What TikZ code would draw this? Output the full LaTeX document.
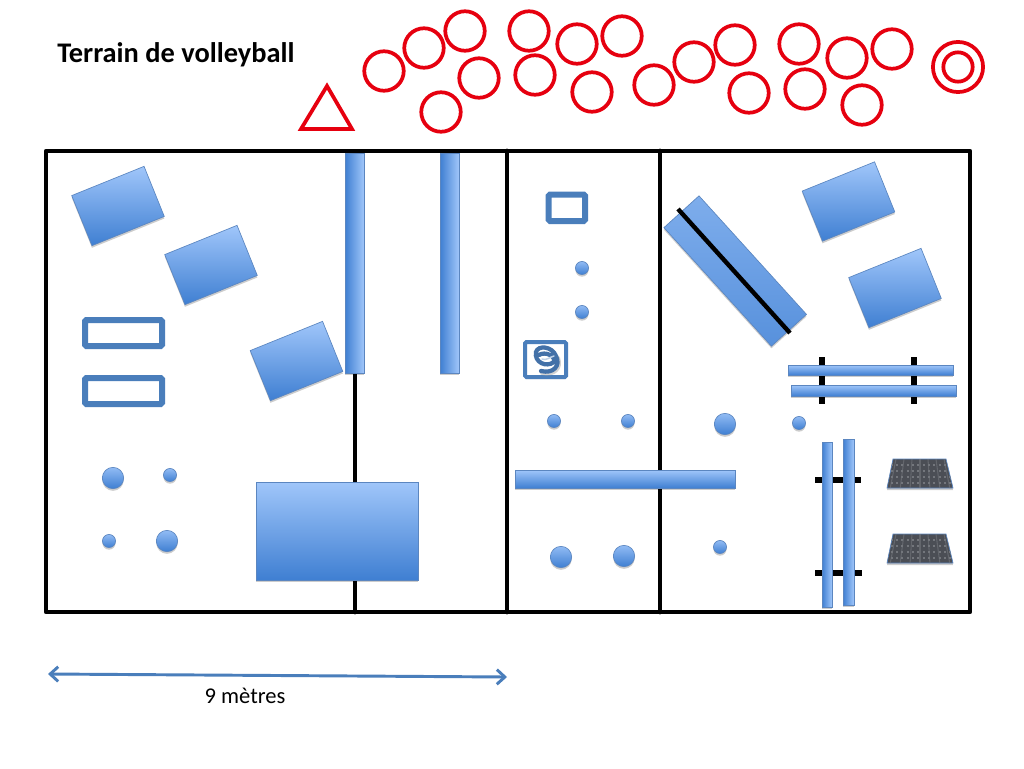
\documentclass[tikz,border=0pt]{standalone}
\usepackage{fontspec}
\setmainfont{Carlito}
\usetikzlibrary{shadows,arrows.meta}
\definecolor{hi}{HTML}{A0C6FA}
\definecolor{lo}{HTML}{3F7FD2}
\definecolor{edge}{HTML}{5B86C0}
\definecolor{bluel}{HTML}{4A7EBB}
\definecolor{redc}{HTML}{E6000F}
\definecolor{netbase}{HTML}{4B4E55}
\definecolor{netline}{HTML}{73767C}
\tikzset{
 softshadow/.style={drop shadow={shadow xshift=0pt,shadow yshift=-1.6pt,opacity=.2,fill=black}},
 court/.style={draw=black,line width=3.6pt,line cap=round,line join=round},
 blueshape/.style={draw=edge,line width=.5pt,top color=hi,bottom color=lo,softshadow},
 hbar/.style={blueshape},
 vbar/.style={draw=edge,line width=.5pt,left color=lo,right color=hi,softshadow},
 tilted/.style={blueshape,minimum width=58.5pt,minimum height=40.5pt,inner sep=0pt,rotate=22},
 openbox/.style={draw=bluel,line width=4.5pt,rounded corners=1pt,fill=white,softshadow},
 ring/.style={draw=redc,line width=2.8pt},
 ball/.style={draw=edge,line width=.5pt,top color=hi!85!lo,bottom color=lo,softshadow},
 post/.style={draw=black,line width=5pt},
 netshape/.style={fill=netbase,draw=edge,line width=.5pt,softshadow},
 label/.style={inner sep=0pt,text=black}
}
\begin{document}
\begin{tikzpicture}[x=.75pt,y=-.75pt]
\useasboundingbox[fill=white] (0,0) rectangle (1024,768);
% title
\node[label,anchor=base west,font=\bfseries\fontsize{21.3pt}{25pt}\selectfont] (title) at (57,62) {Terrain de volleyball};
% red players
\foreach \x/\y in {384/71,424/48,465/31,479/78,441/112,529/31,535/75,577/44,592/92,622/36,654/85,694/62,735/45,749/93,799/44,805/89,847/58,862/105,892/49}
  \draw[ring] (\x,\y) circle[radius=14.8pt];
\draw[ring] (958,67) circle[radius=18.8pt];
\draw[ring] (958,67) circle[radius=11pt];
\draw[ring,line join=miter] (327,86) -- (352,129) -- (301,129) -- cycle;
% court
\draw[court,fill=white,drop shadow={shadow xshift=0pt,shadow yshift=-1.5pt,opacity=.2,fill=black}] (46,151) rectangle (970,612);
\coordinate (ct1) at (507,151); \coordinate (cb1) at (507,612);
\coordinate (ct2) at (660,151); \coordinate (cb2) at (660,612);
\coordinate (ct3) at (355,373); \coordinate (cb3) at (355,612);
\draw[court] (ct1) -- (cb1);
\draw[court] (ct2) -- (cb2);
\draw[court] (ct3) -- (cb3);
% left half
\node[tilted] (q1) at (118,206) {};
\node[tilted] (q2) at (211,265) {};
\node[tilted] (q3) at (296.5,361) {};
\path[vbar] (345,153) rectangle (364,373);
\path[vbar] (440,153) rectangle (459,373);
\path[openbox] (85,320) rectangle (162,346);
\path[openbox] (85,378) rectangle (162,404);
\path[blueshape] (256,482) rectangle (418,580);
\foreach \x/\y/\r in {113/478/8,170/475/4.9,109/541/4.9,167/541/8}
  \path[ball] (\x,\y) circle[radius=\r pt];
% centre
\path[openbox] (548.7,194.5) rectangle (585,221);
\path[openbox,line width=3pt] (525,342) rectangle (566,377);
\draw[black!35,line width=3pt,line cap=round,opacity=.5]
  (542,373) .. controls (554,376) and (562,368) .. (558,358);
\draw[bluel!90!black,line width=3.2pt,line cap=round]
  (541,371) .. controls (553,374) and (561,366) .. (556,356)
  .. controls (552,346) and (538,345) .. (536,352)
  .. controls (534,362) and (546,368) .. (554,362)
  .. controls (556,356) and (545,351) .. (539,355);
\draw[bluel!35!white,line width=1.1pt,line cap=round]
  (542,359) .. controls (546,361) and (550,357) .. (554,356);
\foreach \x/\y/\r in {582/268/4.9,582/312/4.9,554/421/4.9,628/421/4.9,725/424/8,799/423/4.9,720/547/4.9,561/557/8,624/556/8}
  \path[ball] (\x,\y) circle[radius=\r pt];
\path[hbar] (515,470) rectangle (735,488);
% right half
\node[tilted] (q4) at (848.5,201.5) {};
\node[tilted] (q5) at (895,288) {};
\node[draw=edge,line width=.5pt,top color=hi!65!lo,middle color=lo,bottom color=lo!75!hi,softshadow,minimum width=120pt,minimum height=35.5pt,inner sep=0pt,rotate=-47.8] (diag) at (735.2,271) {};
\coordinate (d1) at (678,209); \coordinate (d2) at (790,333);
\draw[black,line width=3.3pt] (d1) -- (d2);
\coordinate (p1a) at (822,357); \coordinate (p1b) at (822,404);
\coordinate (p2a) at (914,357); \coordinate (p2b) at (914,404);
\draw[post] (p1a) -- (p1b);
\draw[post] (p2a) -- (p2b);
\path[hbar] (788,365) rectangle (953,375);
\path[hbar] (791,385) rectangle (956,396);
\coordinate (p3a) at (815,480); \coordinate (p3b) at (861,480);
\coordinate (p4a) at (815,573); \coordinate (p4b) at (862,573);
\draw[post] (p3a) -- (p3b);
\draw[post] (p4a) -- (p4b);
\path[vbar] (822,442) rectangle (832,607);
\path[vbar] (843,439) rectangle (854,605);
% nets
\foreach \d in {0,75}{
  \path[netshape] (893,459+\d) -- (946,459+\d) -- (953,488+\d) -- (887,488+\d) -- cycle;
  \begin{scope}
    \clip (893,459+\d) -- (946,459+\d) -- (953,488+\d) -- (887,488+\d) -- cycle;
    \foreach \yy in {465,471,477,483}
      \draw[netline,line width=1pt,dash pattern=on 1.6pt off 2.4pt] (880,\yy+\d) -- (960,\yy+\d);
    \foreach \xx in {-24,-16,-8,0,8,16,24}
      \draw[netline,line width=.8pt,opacity=.6] (920+\xx,459+\d) -- (920+\xx*1.24,488+\d);
  \end{scope}
}
% dimension
\coordinate (dimL) at (48,674); \coordinate (dimR) at (507,677);
\draw[bluel,line width=2.2pt,{Straight Barb[length=6pt,width=11pt,line width=2.2pt]}-{Straight Barb[length=6pt,width=11pt,line width=2.2pt]}] (dimL) -- (dimR);
\node[label,anchor=base,font=\fontsize{16.9pt}{20pt}\selectfont] (dimtext) at (245,703) {9 mètres};
\end{tikzpicture}
\end{document}
